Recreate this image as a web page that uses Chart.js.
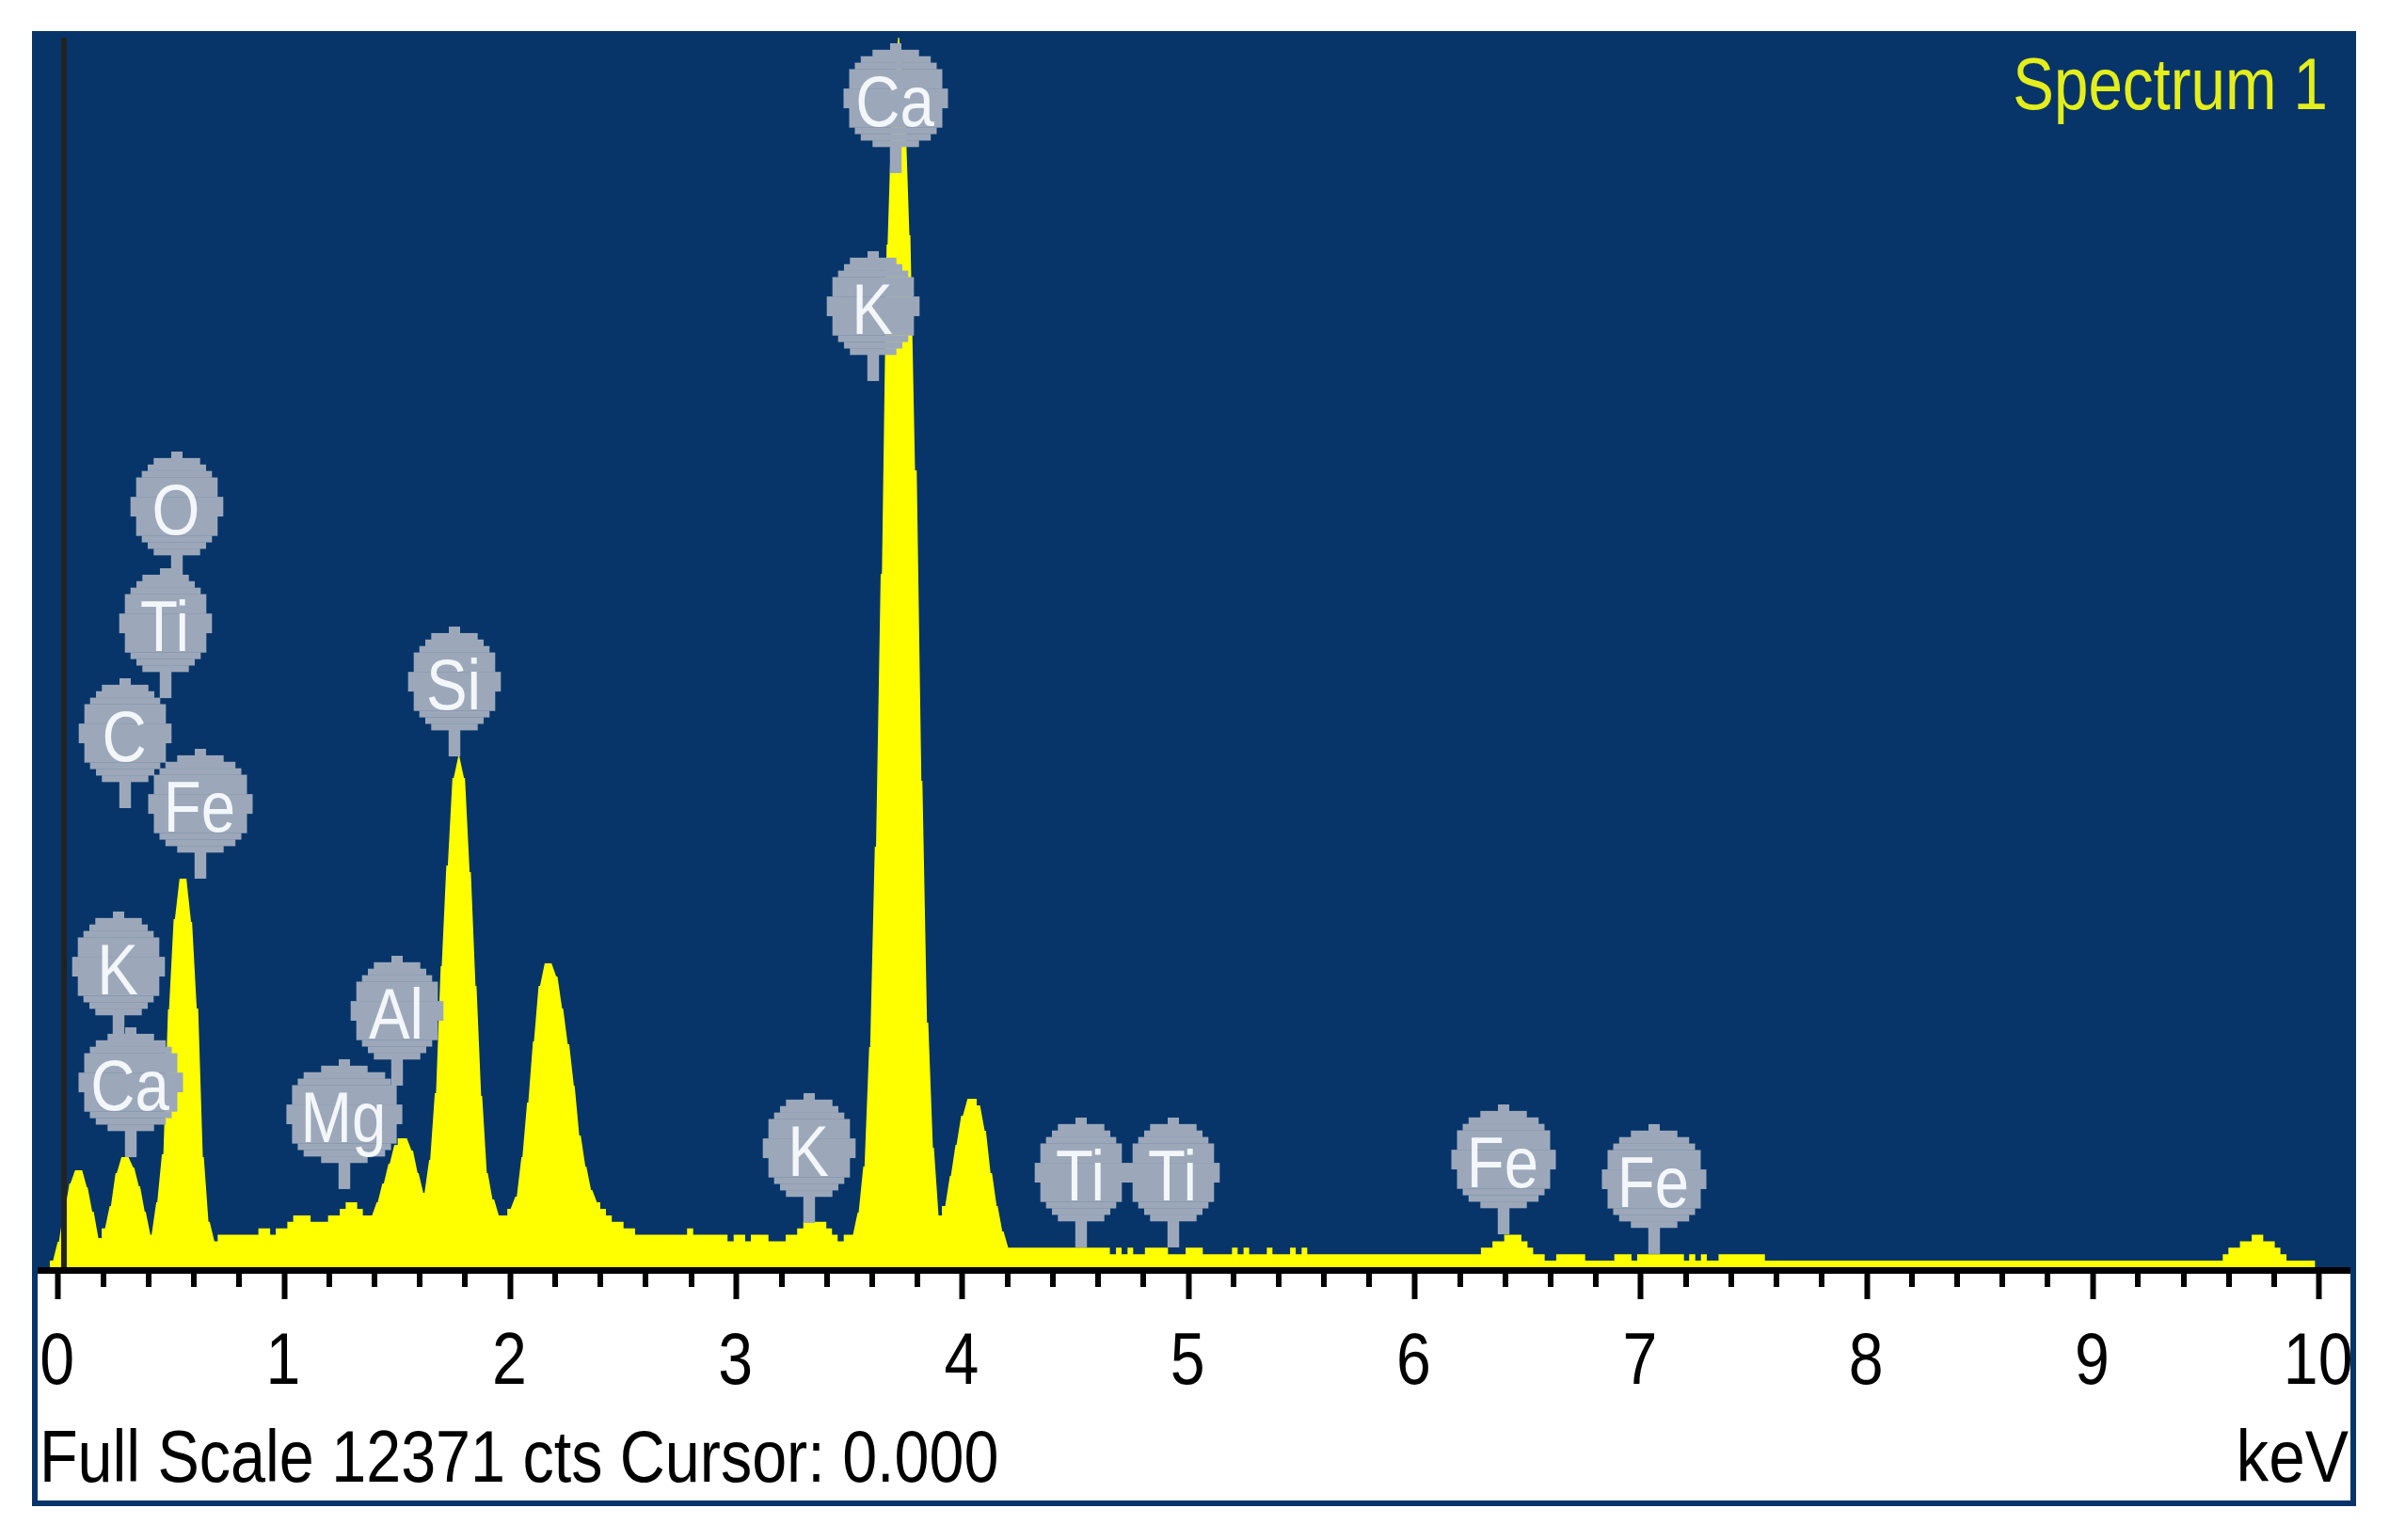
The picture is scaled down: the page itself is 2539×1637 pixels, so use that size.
<!DOCTYPE html>
<html>
<head>
<meta charset="utf-8">
<style>html,body{margin:0;padding:0;background:#fff}canvas{display:block}</style>
<script src="https://cdn.jsdelivr.net/npm/chart.js@4"></script>
</head>
<body>
<canvas id="c" width="2539" height="1637"></canvas>
<script>
const spectrumKeV = [
-0.037,-0.012,0.014,0.040,0.065,0.117,0.141,0.168,0.193,0.218,0.244,0.270,0.322,0.347,0.373,0.398,0.424,0.449,0.476,0.501,
0.527,0.578,0.603,0.630,0.655,0.681,0.706,0.886,0.938,0.963,1.014,1.040,1.117,1.194,1.246,1.272,1.323,1.348,1.399,1.424,
1.451,1.477,1.502,1.553,1.580,1.605,1.631,1.656,1.682,1.707,1.734,1.760,1.785,1.810,1.836,1.861,1.886,1.911,1.939,1.987,
2.012,2.039,2.064,2.090,2.115,2.142,2.193,2.219,2.244,2.271,2.295,2.322,2.347,2.373,2.398,2.423,2.449,2.501,2.552,2.782,
2.809,2.961,2.988,3.039,3.064,3.142,3.218,3.269,3.296,3.398,3.423,3.448,3.475,3.526,3.551,3.577,3.602,3.628,3.654,3.679,
3.705,3.730,3.755,3.780,3.808,3.833,3.859,3.884,3.909,3.934,3.959,3.984,4.012,4.063,4.088,4.114,4.141,4.166,4.192,4.652,
4.679,4.704,4.730,4.755,4.807,4.909,4.987,5.063,5.192,5.217,5.243,5.268,5.346,5.371,5.449,5.474,5.500,5.525,6.293,6.344,
6.396,6.472,6.499,6.524,6.575,6.626,6.754,6.883,6.959,6.984,7.191,7.214,7.241,7.266,7.292,7.344,7.549,9.574,9.599,9.650,
9.702,9.753,9.804,9.829,9.856,9.983];
const spectrumCounts = [
66,256,568,842,975,805,558,293,391,615,947,1107,1003,814,558,326,653,1136,2593,3502,
3909,3474,2603,1107,456,261,326,391,326,391,456,521,456,521,587,653,587,521,653,842,
1041,1230,1297,1174,947,748,1079,1751,3029,4042,4922,5139,4922,3975,2830,1723,947,681,521,587,
710,1107,1656,2272,2830,3057,2925,2603,2243,1827,1325,1013,776,653,587,521,456,391,326,391,
326,261,326,261,326,261,326,391,456,391,326,261,326,549,1013,2215,4231,6976,10288,11803,
12371,11803,10383,8017,4893,2461,1202,521,615,918,1230,1524,1694,1628,1372,947,615,360,196,131,
196,131,196,131,196,131,196,131,196,131,196,131,196,131,196,131,196,131,196,261,
326,261,196,131,66,131,66,131,66,131,66,131,66,131,66,131,66,131,196,261,
326,261,196,131,66,0];
const majorTicks = [0,1,2,3,4,5,6,7,8,9,10];
const tickLabels = ["0","1","2","3","4","5","6","7","8","9","10"];
const minorTicks = [0.2,0.4,0.6,0.8,1.2,1.4,1.6,1.8,2.2,2.4,2.6,2.8,3.2,3.4,3.6,3.8,4.2,4.4,4.6,4.8,5.2,5.4,5.6,5.8,6.2,6.4,6.6,6.8,7.2,7.4,7.6,7.8,8.2,8.4,8.6,8.8,9.2,9.4,9.6,9.8];
const markerLabels = ["O","Ti","C","Fe","Si","K","Ca","Al","Mg","K","Ca","K","Ti","Ti","Fe","Fe"];
const markerKeV = [0.525,0.475,0.295,0.628,1.755,0.268,0.322,1.499,1.266,3.322,3.705,3.605,4.525,4.931,6.393,7.059];
const markerCounts = [6900,5726,4619,3909,5139,2272,1107,1827,786,445,11008,8916,199,199,331,133];
const cursorKeV = 0.026;
const fullScaleText = "Full Scale 12371 cts Cursor: 0.000";
const unitText = "keV";
const spectrumName = "Spectrum 1";

const BLUE = "#07356a", GREY = "#9ca8ba";
const FONT = '"Liberation Sans",sans-serif';
const rows = [[1,6,0],[1,24.7,0],[1,31,1],[1,37.3,1],[3,43.3,1],[3,49.3,1],[3,43.3,1],[1,37.3,1],[1,31,1],[1,24.7,0]];

// Outline of the measured channels: small steps stay square, steep flanks slope across the channel edge.
const spectrumPoints = [];
spectrumKeV.forEach((k,i) => {
  const prev = i ? spectrumCounts[i-1] : 0, cur = spectrumCounts[i];
  const d = Math.abs(cur-prev) <= 100 ? 0 : 0.0103;
  spectrumPoints.push({x:k-d, y:prev}, {x:k+d, y:cur});
});

function label(c, text, x, y, align, sx) {
  c.save();
  c.translate(x,y);
  c.scale(sx,1);
  c.textAlign = align;
  c.textBaseline = "alphabetic";
  c.fillText(text,0,0);
  c.restore();
}

const frame = {
  id: "frame",
  beforeDraw(chart) {
    const c = chart.ctx;
    c.save();
    c.fillStyle = "#fff"; c.fillRect(0,0,2539,1637);
    c.fillStyle = BLUE;   c.fillRect(34,33,2470,1568);
    c.fillStyle = "#fff"; c.fillRect(40,1354,2458,241);
    c.fillStyle = "#000"; c.fillRect(40,1347,2458,7);
    c.restore();
  },
  beforeDatasetsDraw(chart) {
    const c = chart.ctx, x = chart.scales.x;
    c.save();
    c.fillStyle = "#000";
    minorTicks.forEach(v => c.fillRect(Math.round(x.getPixelForValue(v))-3,1347,6,21));
    c.restore();
  },
  afterDatasetsDraw(chart) {
    const c = chart.ctx, x = chart.scales.x, y = chart.scales.y;
    c.save();
    c.fillStyle = "#222";
    c.fillRect(x.getPixelForValue(cursorKeV)-3,40,6,1307);
    markerLabels.forEach((t,i) => {
      const px = Math.round(x.getPixelForValue(markerKeV[i])), pin = y.getPixelForValue(markerCounts[i]);
      const extra = t === "Mg" ? 12.3 : (t === "Ca" || t === "Fe") ? 6.2 : 0;
      const top = pin - 28 - 110;
      c.fillStyle = GREY;
      c.fillRect(px-6.2,pin-30,12.4,30);
      let yy = top;
      rows.forEach(r => {
        const h = r[0]*6.875, w = r[1] + (r[2] ? extra : 0);
        c.fillRect(px-w,yy,2*w,h+0.3);
        yy += h;
      });
      c.fillStyle = "#f3f7fa";
      c.font = "76px "+FONT;
      label(c,t,px-1,top+88,"center",0.86);
    });
    c.font = "77px "+FONT;
    c.fillStyle = "#000";
    majorTicks.forEach((v,i) => label(c,tickLabels[i],x.getPixelForValue(v)-1,1471,"center",0.86));
    label(c,fullScaleText,42,1575,"left",0.863);
    label(c,unitText,2496,1575,"right",0.9);
    c.fillStyle = "#e4ee1a";
    label(c,spectrumName,2474,116,"right",0.85);
    c.restore();
  }
};

new Chart(document.getElementById("c"), {
  type: "line",
  data: { datasets: [{
    data: spectrumPoints,
    fill: "origin", backgroundColor: "#ffff00",
    borderColor: "#ffff00", borderWidth: 0, pointRadius: 0, tension: 0
  }]},
  plugins: [frame],
  options: {
    responsive: false, animation: false, devicePixelRatio: 1,
    layout: { padding: { left:34, right:35, top:40, bottom:0 } },
    plugins: { legend:{display:false}, tooltip:{enabled:false}, title:{display:false} },
    scales: {
      x: {
        type: "linear", min: -0.1153, max: 10.1636,
        afterBuildTicks: s => { s.ticks = majorTicks.map(v => ({value:v})); },
        afterFit: s => { s.height = 290; },
        border: { display:false },
        grid: { drawOnChartArea:false, drawTicks:true, tickLength:34, tickColor:"#000", tickWidth:6 },
        ticks: { display:false }
      },
      y: { type:"linear", display:false, min:0, max:12371 }
    }
  }
});
</script>
</body>
</html>
